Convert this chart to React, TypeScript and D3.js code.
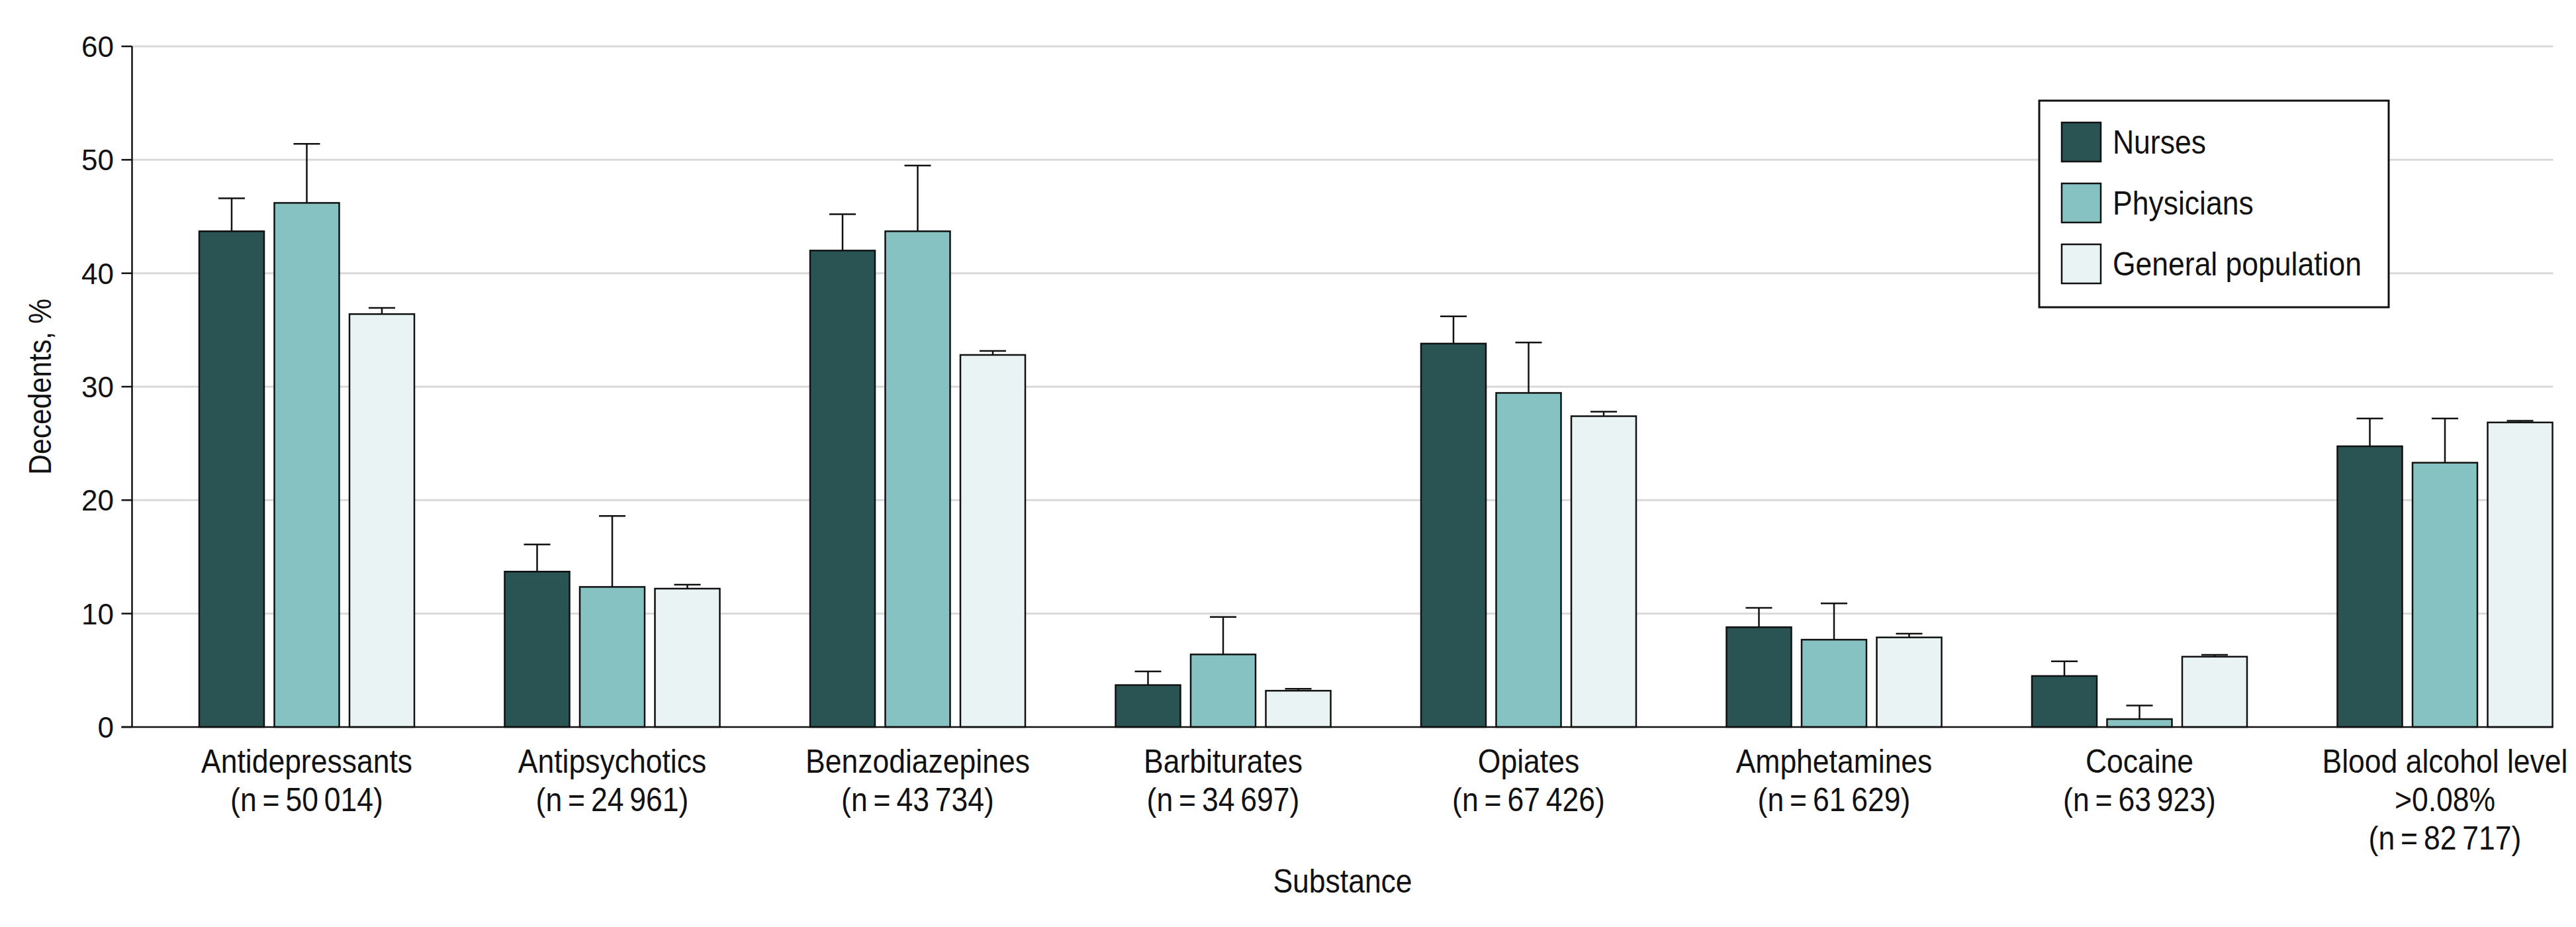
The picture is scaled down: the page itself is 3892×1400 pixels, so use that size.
import React from "react";
import * as d3 from "d3";

const categories = [
  "Antidepressants",
  "Antipsychotics",
  "Benzodiazepines",
  "Barbiturates",
  "Opiates",
  "Amphetamines",
  "Cocaine",
  "Blood alcohol level",
];
const categoryExtra = ["", "", "", "", "", "", "", ">0.08%"];
const sampleSizes = ["50\u2009014", "24\u2009961", "43\u2009734", "34\u2009697", "67\u2009426", "61\u2009629", "63\u2009923", "82\u2009717"];

const seriesNames = ["Nurses", "Physicians", "General population"];
const seriesColors = ["#2a5453", "#86c2c1", "#eaf3f4"];

const nurses = [43.7, 13.7, 42.0, 3.7, 33.8, 8.8, 4.5, 24.75];
const nursesUpper = [46.6, 16.1, 45.2, 4.9, 36.2, 10.5, 5.8, 27.2];
const physicians = [46.2, 12.35, 43.7, 6.4, 29.45, 7.7, 0.7, 23.3];
const physiciansUpper = [51.4, 18.6, 49.5, 9.7, 33.9, 10.9, 1.9, 27.2];
const general = [36.4, 12.2, 32.8, 3.2, 27.4, 7.9, 6.2, 26.85];
const generalUpper = [36.95, 12.55, 33.15, 3.37, 27.8, 8.23, 6.36, 27.0];

const yTicks = [0, 10, 20, 30, 40, 50, 60];

const values = [nurses, physicians, general];
const uppers = [nursesUpper, physiciansUpper, generalUpper];

const W = 3892;
const H = 1400;
const FONT = "'Liberation Sans', Arial, sans-serif";
const SX = 0.89;

export default function App() {
  const y = d3.scaleLinear().domain([0, 60]).range([1098, 70]);
  const x0 = d3.scaleBand<string>().domain(categories).range([232.75, 3924.75]).padding(0);
  const groupW = 325;
  const groupOffset = (x0.bandwidth() - groupW) / 2;
  const x1 = d3.scaleBand<string>().domain(seriesNames).range([0, groupW]).paddingInner(0.1366).paddingOuter(0);
  const axisLeft = 199.5;
  const axisRight = (x0(categories[categories.length - 1]) as number) + groupOffset + groupW + 1;
  const capHalf = 20;

  return (
    <svg
      width={W}
      height={H}
      style={{ position: "absolute", left: 0, top: 0, display: "block", background: "#fff" }}
      fontFamily={FONT}
    >
      <rect x={0} y={0} width={W} height={H} fill="#fff" />
      {/* gridlines */}
      {yTicks.filter((t) => t > 0).map((t) => (
        <line key={"g" + t} x1={axisLeft} x2={axisRight} y1={y(t)} y2={y(t)} stroke="#d9d9d9" strokeWidth={3} />
      ))}
      {/* bars */}
      {categories.map((c, ci) => {
        const gx = (x0(c) as number) + groupOffset;
        return (
          <g key={c}>
            {seriesNames.map((s, si) => {
              const bx = gx + (x1(s) as number);
              const bw = x1.bandwidth();
              const v = values[si][ci];
              const u = uppers[si][ci];
              const cx = bx + bw / 2;
              return (
                <g key={s}>
                  <line x1={cx} x2={cx} y1={y(v)} y2={y(u)} stroke="#111" strokeWidth={2.5} />
                  <line x1={cx - capHalf} x2={cx + capHalf} y1={y(u)} y2={y(u)} stroke="#111" strokeWidth={2.5} />
                  <rect x={bx} y={y(v)} width={bw} height={y(0) - y(v)} fill={seriesColors[si]} stroke="#111" strokeWidth={2.5} />
                </g>
              );
            })}
          </g>
        );
      })}
      {/* axes */}
      <line x1={axisLeft} x2={axisLeft} y1={y(60)} y2={y(0)} stroke="#111" strokeWidth={2.5} />
      <line x1={axisLeft - 16} x2={axisRight} y1={y(0)} y2={y(0)} stroke="#111" strokeWidth={2.5} />
      {yTicks.map((t) => (
        <g key={"t" + t}>
          <line x1={axisLeft - 16} x2={axisLeft} y1={y(t)} y2={y(t)} stroke="#111" strokeWidth={2.5} />
          <text x={172} y={y(t)} dy="0.36em" textAnchor="end" fontSize={44} fill="#111">
            {t}
          </text>
        </g>
      ))}
      {/* y title */}
      <g transform={`translate(77,${(y(0) + y(60)) / 2}) rotate(-90) scale(${SX},1)`}>
        <text x={0} y={0} textAnchor="middle" fontSize={48} fill="#111">
          Decedents, %
        </text>
      </g>
      {/* x labels */}
      {categories.map((c, ci) => {
        const cx = (x0(c) as number) + x0.bandwidth() / 2;
        const lines = [c];
        if (categoryExtra[ci]) lines.push(categoryExtra[ci]);
        lines.push(`(n\u2009=\u2009${sampleSizes[ci]})`);
        return (
          <g key={"l" + c} transform={`translate(${cx},1167) scale(${SX},1)`}>
            {lines.map((ln, li) => (
              <text key={li} x={0} y={li * 58} textAnchor="middle" fontSize={50} fill="#111">
                {ln}
              </text>
            ))}
          </g>
        );
      })}
      {/* x title */}
      <g transform={`translate(${(axisLeft + axisRight) / 2},1348) scale(${SX},1)`}>
        <text x={0} y={0} textAnchor="middle" fontSize={50} fill="#111">
          Substance
        </text>
      </g>
      {/* legend */}
      <rect x={3081} y={152} width={528} height={312} fill="#fff" stroke="#111" strokeWidth={3} />
      {seriesNames.map((s, si) => (
        <g key={"lg" + s}>
          <rect x={3115} y={185 + si * 92} width={59} height={59} fill={seriesColors[si]} stroke="#111" strokeWidth={2.5} />
          <g transform={`translate(3192,${185 + si * 92 + 47}) scale(${SX},1)`}>
            <text x={0} y={0} fontSize={50} fill="#111">
              {s}
            </text>
          </g>
        </g>
      ))}
    </svg>
  );
}
